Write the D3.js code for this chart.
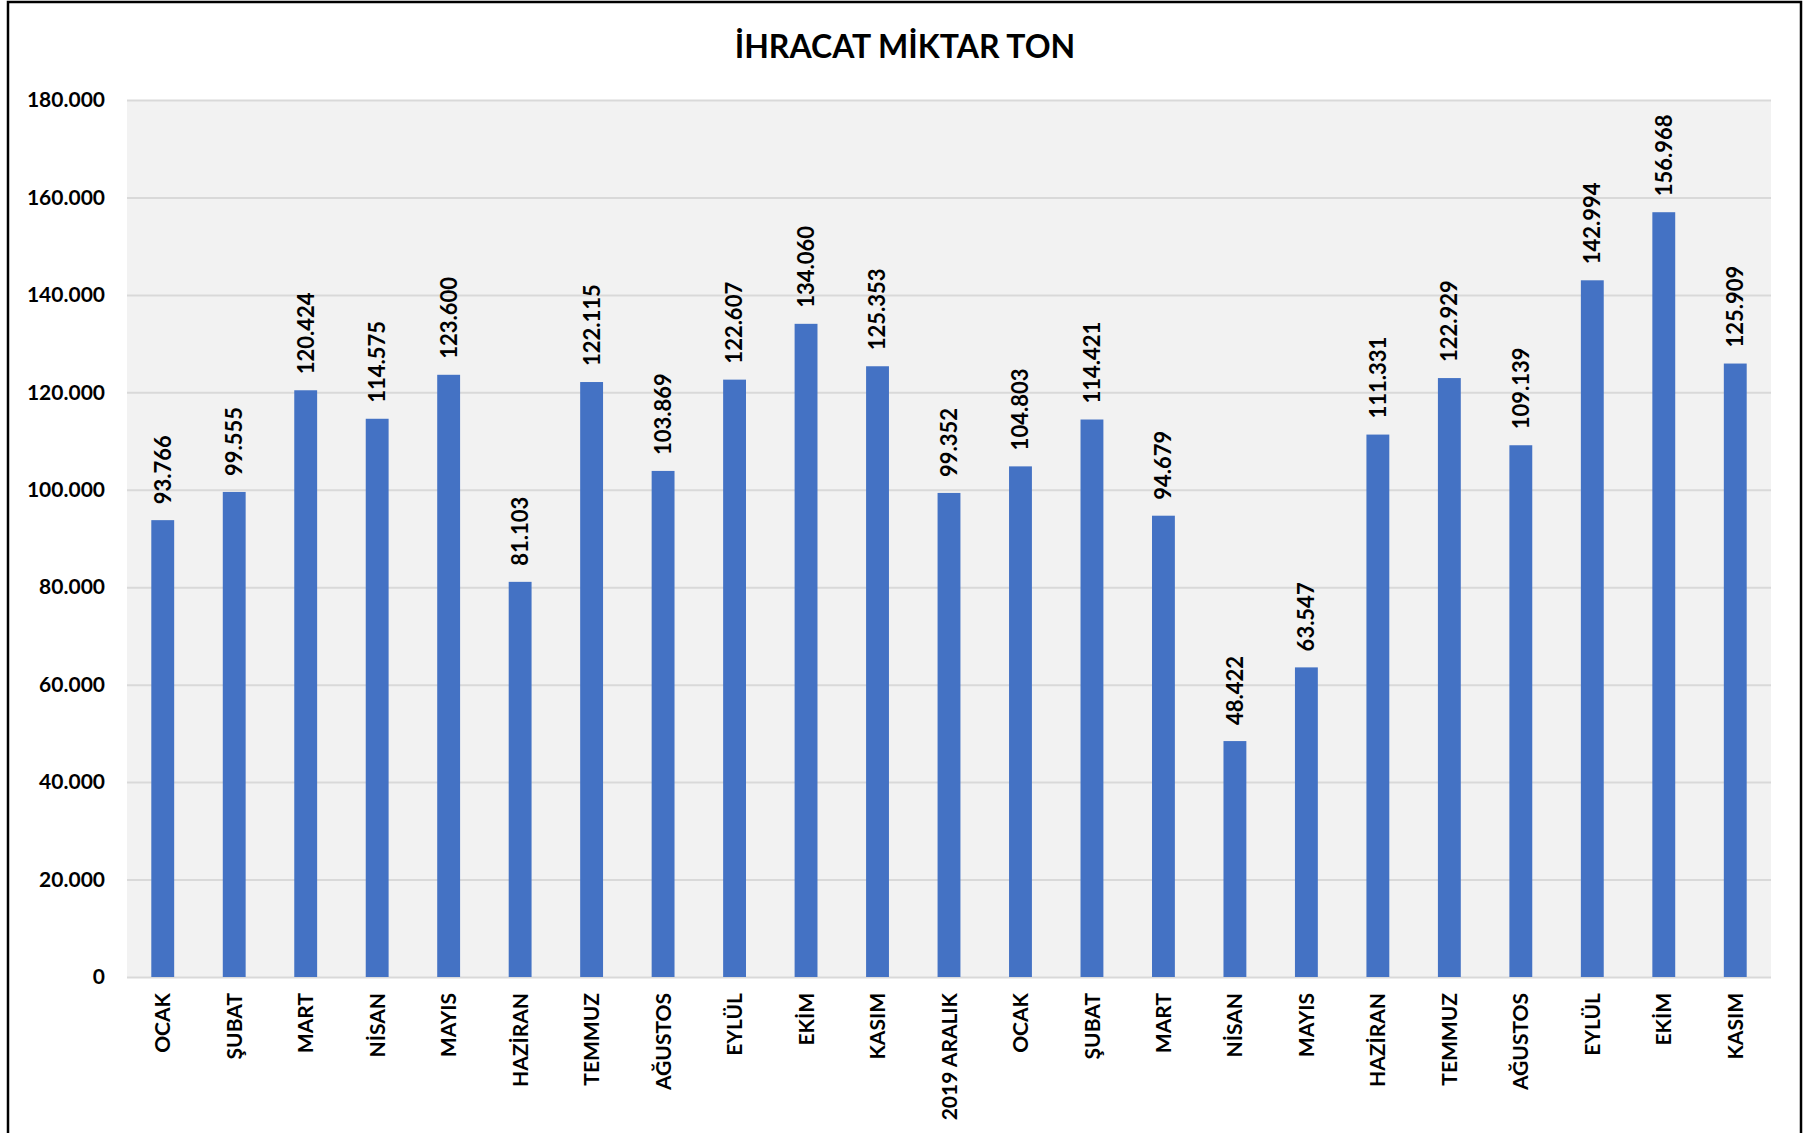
<!DOCTYPE html>
<html>
<head>
<meta charset="utf-8">
<script src="https://cdn.jsdelivr.net/npm/d3@7"></script>
<style>
  body { margin: 0; background: #fff; }
  text { font-family: Lato, "Open Sans", sans-serif; }
</style>
</head>
<body>
<svg id="chart" width="1812" height="1133"></svg>
<script>
const months = ["OCAK", "ŞUBAT", "MART", "NİSAN", "MAYIS", "HAZİRAN", "TEMMUZ", "AĞUSTOS", "EYLÜL", "EKİM", "KASIM",
  "2019 ARALIK", "OCAK", "ŞUBAT", "MART", "NİSAN", "MAYIS", "HAZİRAN", "TEMMUZ", "AĞUSTOS", "EYLÜL", "EKİM", "KASIM"];
const tons = [93766, 99555, 120424, 114575, 123600, 81103, 122115, 103869, 122607, 134060, 125353,
  99352, 104803, 114421, 94679, 48422, 63547, 111331, 122929, 109139, 142994, 156968, 125909];
const yTicks = [0, 20000, 40000, 60000, 80000, 100000, 120000, 140000, 160000, 180000];

const width = 1812, height = 1133;
const margin = {left: 127, right: 41, top: 100, bottom: 156};

const svg = d3.select("#chart");
const fmt = d3.formatLocale({decimal: ",", thousands: ".", grouping: [3], currency: ["", ""]}).format(",d");

// frame
svg.append("rect")
  .attr("x", 8).attr("y", 2)
  .attr("width", 1793).attr("height", 1140)
  .attr("fill", "none").attr("stroke", "#000").attr("stroke-width", 2.5);

const x = d3.scaleBand()
  .domain(d3.range(months.length))
  .range([margin.left, width - margin.right])
  .paddingInner(0.68).paddingOuter(0.34);

const y = d3.scaleLinear()
  .domain([0, 180000])
  .range([height - margin.bottom, margin.top]);

svg.append("rect")
  .attr("x", margin.left).attr("y", margin.top)
  .attr("width", width - margin.left - margin.right)
  .attr("height", height - margin.top - margin.bottom)
  .attr("fill", "#f2f2f2");

// y axis with gridlines
const yAxis = d3.axisLeft(y)
  .tickValues(yTicks)
  .tickSize(-(width - margin.left - margin.right))
  .tickPadding(22)
  .tickFormat(fmt);

svg.append("g")
  .attr("transform", `translate(${margin.left},0)`)
  .call(yAxis)
  .call(g => g.select(".domain").remove())
  .call(g => g.selectAll(".tick line").attr("stroke", "#d9d9d9").attr("stroke-width", 2))
  .call(g => g.selectAll(".tick text")
    .attr("fill", "#000").attr("font-size", 21).attr("font-weight", 700)
    .style("font-family", "Lato, sans-serif"));

// bars
svg.append("g").selectAll("rect")
  .data(tons)
  .join("rect")
  .attr("x", (d, i) => x(i))
  .attr("y", d => y(d))
  .attr("width", x.bandwidth())
  .attr("height", d => y(0) - y(d))
  .attr("fill", "#4472c4");

// value labels
svg.append("g").selectAll("text")
  .data(tons)
  .join("text")
  .attr("transform", (d, i) => `translate(${x(i) + x.bandwidth() / 2},${y(d) - 16}) rotate(-90)`)
  .attr("dy", "0.36em")
  .attr("font-size", 22)
  .attr("font-weight", 700)
  .attr("fill", "#000")
  .text(d => fmt(d));

// x axis labels
const xAxis = d3.axisBottom(x)
  .tickSize(0)
  .tickFormat(i => months[i]);

svg.append("g")
  .attr("transform", `translate(0,${y(0)})`)
  .call(xAxis)
  .call(g => g.select(".domain").remove())
  .call(g => g.selectAll(".tick text")
    .attr("transform", "translate(0,16) rotate(-90)")
    .attr("x", 0).attr("y", 0).attr("dy", "0.36em")
    .attr("text-anchor", "end")
    .attr("fill", "#000").attr("font-size", 21).attr("font-weight", 700)
    .style("font-family", "Lato, sans-serif"));

// title
svg.append("text")
  .attr("x", 905).attr("y", 58)
  .attr("text-anchor", "middle")
  .attr("font-size", 32)
  .attr("font-weight", 700)
  .text("İHRACAT MİKTAR TON");
</script>
</body>
</html>
